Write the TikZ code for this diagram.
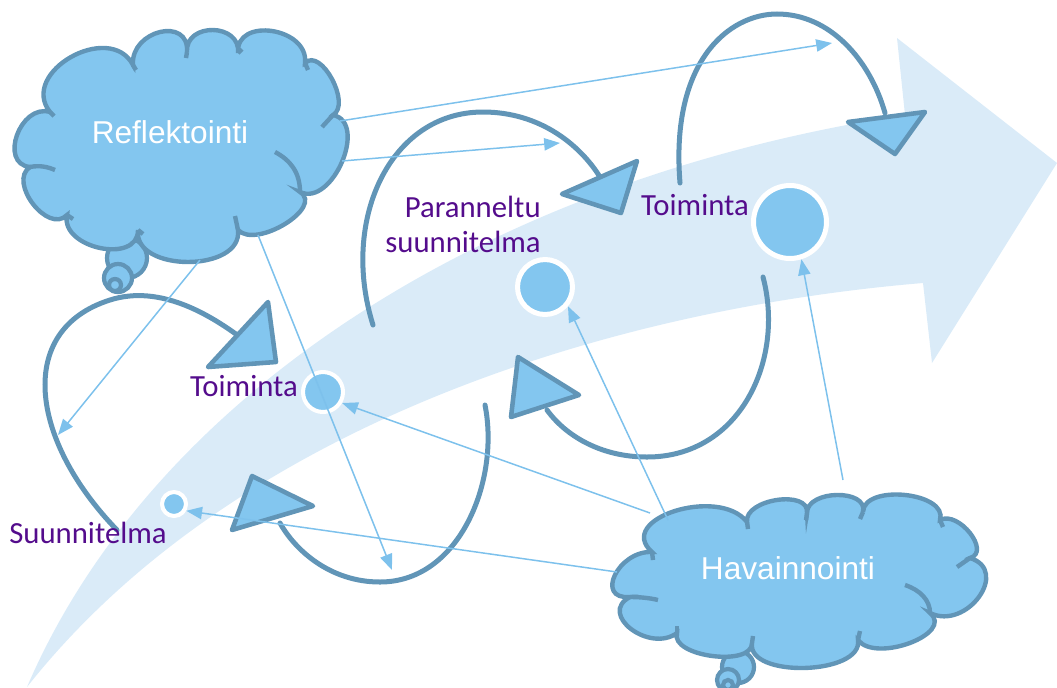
\documentclass[tikz,border=0pt]{standalone}
\usepackage{fontspec}
\setmainfont{Liberation Sans}
\newfontfamily\calib{Carlito}
\usetikzlibrary{calc,arrows.meta}
\definecolor{bandc}{RGB}{218,235,248}
\definecolor{fillb}{RGB}{131,198,239}
\definecolor{darkb}{RGB}{97,149,183}
\definecolor{thinb}{RGB}{125,193,236}
\definecolor{labc}{RGB}{84,12,140}
\begin{document}
\begin{tikzpicture}[x=0.02cm,y=-0.02cm,
 cycline/.style={draw=darkb,line width=2.85pt,line cap=round},
 headtri/.style={draw=darkb,fill=fillb,line width=2.6pt,line join=round},
 thinarrow/.style={draw=thinb,line width=0.85pt,-{Triangle[length=9pt,width=7pt]}},
 dotnode/.style={circle,fill=fillb,draw=white,inner sep=0pt},
 cloudline/.style={draw=darkb,fill=fillb,line width=2.5pt,line join=miter},
 pf/.style n args={3}{insert path={.. controls ($0.3833*(#1)+1.3333*(#2)-0.7167*(#3)$) and ($0.3833*(#3)+1.3333*(#2)-0.7167*(#1)$) .. (#3)}},
 curl/.style={draw=darkb,line width=2.5pt},
 bubble/.style={draw=darkb,fill=fillb,line width=2.4pt},
 cloudtxt/.style={text=white,font=\fontsize{18}{21}\selectfont},
 lbl/.style={text=labc,font=\calib\fontsize{17.5}{20}\selectfont},
]
\path[use as bounding box] (0,0) rectangle (1057,687);
% big curved arrow
\fill[bandc] (27,687) .. controls (150,400) and (480,180) .. (905,115) -- (897,38) -- (1057,163) -- (932,363) -- (923,283) .. controls (600,310) and (230,430) .. (27,687) -- cycle;
% Reflektointi cloud
\draw[bubble] (127,258) circle[radius=20];
\draw[bubble] (118,278) circle[radius=14];
\draw[bubble] (115,285) circle[radius=6];
\path[cloudline] (30,167) [pf={30,167}{17,135}{50,112}] [pf={50,112}{71,57}{133,65}]
  [pf={133,65}{160,32}{187,52}] [pf={187,52}{213,30}{238,53}] [pf={238,53}{272,31}{305,63}]
  [pf={305,63}{332,79}{333,115}] [pf={333,115}{342,162}{300,192}] [pf={300,192}{285,224}{238,230}]
  [pf={238,230}{188,262}{138,230}] [pf={138,230}{100,248}{67,215}] [pf={67,215}{33,204}{30,167}] -- cycle;
\draw[curl] (30,167) .. controls (40,165) and (48,167) .. (55,170);
\draw[curl] (300,192) .. controls (300,172) and (290,160) .. (275,152);
\draw[curl] (333,115) -- (322,127);
\draw[curl] (238,230) -- (235,216);
\draw[curl] (67,215) -- (73,219);
\draw[curl] (138,230) -- (143,234);
\draw[curl] (305,63) -- (308,70);
\draw[curl] (238,53) -- (242,49);
\draw[curl] (187,52) -- (186,58);
\draw[curl] (133,65) -- (136,70);
\draw[curl] (50,112) -- (54,116);
\node[cloudtxt] (refltxt) at (170,132) {Reflektointi};
% Havainnointi cloud
\draw[bubble] (738,667) circle[radius=16];
\draw[bubble] (728,680) circle[radius=11];
\draw[bubble] (728,685) circle[radius=5];
\path[cloudline] (630,597) [pf={630,597}{615,575}{652,552}] [pf={652,552}{675,511}{747,522}]
  [pf={747,522}{777,500}{807,513}] [pf={807,513}{837,495}{863,512}] [pf={863,512}{905,495}{940,520}]
  [pf={940,520}{970,533}{970,558}] [pf={970,558}{979,597}{930,613}] [pf={930,613}{910,643}{858,640}]
  [pf={858,640}{805,668}{752,643}] [pf={752,643}{712,656}{677,633}] [pf={677,633}{631,629}{630,597}] -- cycle;
\draw[curl] (630,597) .. controls (640,597) and (650,598) .. (658,600);
\draw[curl] (930,613) .. controls (930,600) and (920,590) .. (905,585);
\draw[curl] (970,558) -- (957,567);
\draw[curl] (858,640) -- (860,631);
\draw[curl] (752,643) -- (753,636);
\draw[curl] (677,633) -- (677,626);
\draw[curl] (652,552) -- (653,560);
\draw[curl] (747,522) -- (748,529);
\draw[curl] (807,513) -- (806,520);
\draw[curl] (863,512) -- (860,519);
\draw[curl] (940,520) -- (943,527);
\node[cloudtxt] (havtxt) at (788,568) {Havainnointi};
% loops
\draw[cycline] (117,530) .. controls (30,440) and (15,330) .. (110,300) .. controls (160,284) and (210,315) .. (240,337);
\draw[headtri] (268,302) -- (276,362) -- (208,367) -- cycle;
\draw[cycline] (485,405) .. controls (500,480) and (460,582) .. (380,582) .. controls (330,582) and (295,550) .. (280,523);
\draw[headtri] (252,476) -- (313,506) -- (232,530) -- cycle;
\draw[cycline] (373,325) .. controls (340,220) and (390,112) .. (483,112) .. controls (540,112) and (580,145) .. (600,177);
\draw[headtri] (637,161) -- (621,213) -- (562,194) -- cycle;
\draw[cycline] (763,277) .. controls (785,360) and (740,457) .. (647,457) .. controls (600,457) and (565,435) .. (547,410);
\draw[headtri] (518,357) -- (579,395) -- (511,417) -- cycle;
\draw[cycline] (680,183) .. controls (670,60) and (730,14) .. (777,14) .. controls (830,14) and (870,60) .. (885,113);
\draw[headtri] (925,112) -- (895,154) -- (848,122) -- cycle;
% dots
\node[dotnode, line width=2.3pt, minimum size=0.48cm] (d0) at (174,504) {};
\node[dotnode, line width=2.3pt, minimum size=0.8cm] (d1) at (323,392) {};
\node[dotnode, line width=2.85pt, minimum size=1.1cm] (d3) at (545,287) {};
\node[dotnode, line width=2.85pt, minimum size=1.46cm] (d2) at (790,222) {};
% labels
\node[lbl] (lsuun) at (88,533) {Suunnitelma};
\node[lbl] (ltoi1) at (244,386) {Toiminta};
\node[lbl, align=right] (lpar) at (463,224) {Paranneltu\\suunnitelma};
\node[lbl] (ltoi2) at (695,205) {Toiminta};
% thin arrows
\coordinate (r1) at (340,121); \coordinate (t1) at (832,43);
\coordinate (r2) at (342,161); \coordinate (t2) at (560,143);
\coordinate (r3) at (200,260); \coordinate (t3) at (58,435);
\coordinate (r4) at (258,235); \coordinate (t4) at (392,570);
\coordinate (h1) at (617,572);
\coordinate (h2) at (650,513);
\coordinate (h3) at (668,520);
\coordinate (h4) at (843,480);
\draw[thinarrow] (r1) -- (t1);
\draw[thinarrow] (r2) -- (t2);
\draw[thinarrow] (r3) -- (t3);
\draw[thinarrow] (r4) -- (t4);
\draw[thinarrow] (h1) -- (d0.-29);
\draw[thinarrow] (h2) -- (d1.-30);
\draw[thinarrow] (h3) -- (d3.-40);
\draw[thinarrow] (h4) -- (d2.-73);
\end{tikzpicture}
\end{document}
